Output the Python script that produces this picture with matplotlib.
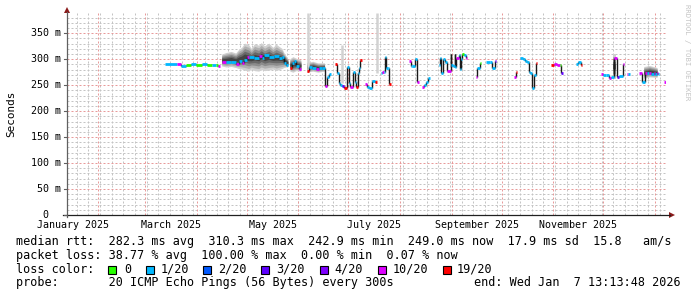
import numpy as np
import matplotlib
matplotlib.use("Agg")
import matplotlib.pyplot as plt
from matplotlib.collections import LineCollection
from matplotlib.lines import Line2D
from matplotlib.patches import Polygon, Rectangle
from matplotlib.transforms import IdentityTransform, blended_transform_factory

# ---------------- data (x = days since 2025-01-01 00:00, y = milliseconds) -------------
nan = np.nan
days = [71.0, 78.3, 80.7, 83.7, 86.7, 89.7, 93.3, 96.3, 99.3, 101.7, 102.9, 104.1,
        105.3, 107.7, 110.7, 113.7, 115.5, 117.3, 118.5, 120.3, 121.5, 124.5, 127.5, 129.0,
        130.5, 133.6, 136.6, 139.6, 141.4, 142.6, 143.8, 145.0,
        146.2, 147.4, 148.6, 149.8, 151.6, 152.8,
        156.2, 157.6, 159.4, 161.6, 163.6, 165.4, 167.0, 168.0, 169.6, 170.8,
        173.2, 174.0, 175.2, 176.2, 177.2, 178.6, 180.0, 181.2, 182.0, 183.6, 185.0, 185.8,
        186.6, 187.2, 188.1, 189.1,
        191.2, 192.4, 193.6, 195.3, 197.2, 198.4,
        200.4, 201.4, 202.4, 203.0, 203.8, 204.8, 205.4, 206.3,
        217.1, 218.3, 219.3, 220.7, 222.1, 223.1,
        225.3, 226.2, 227.3, 228.6, 229.7,
        235.3, 236.0, 236.7, 238.0, 239.1, 240.3, 242.3, 242.7, 243.7, 244.7, 245.1, 245.7,
        247.3, 247.7, 248.7, 249.3, 250.1, 251.3, 252.2,
        257.4, 258.3, 259.8, 260.7,
        263.4, 266.1, 267.4, 268.8, 269.7,
        280.4, 281.4, 282.3,
        284.2, 285.6, 286.8, 288.0, 289.4, 290.1, 291.3, 292.4, 293.4, 294.3,
        302.8, 304.2, 306.2, 307.8, 308.7, 309.6,
        317.6, 318.8, 320.5, 321.4,
        332.3, 333.9, 335.5, 337.5, 338.8, 340.5, 342.0, 343.5, 345.5, 346.6,
        347.9, 348.9, 350.2,
        355.5, 357.4, 358.9, 360.1, 361.5, 362.8, 364.3, 365.2, 365.9, 366.7, 367.6,
        370.5, 371.5]
median_ms = [291, 291, 287, 289, 290, 289, 290, 289, 288, 289, 286, nan,
             294, 294, 295, 291, 297, 292, 298, 305, 304, 302, 306, 303,
             308, 304, 307, 302, 304, 293, 289, nan,
             283, 292, 296, 286, 281, nan,
             278, 285, 283, 281, 284, 283, 249, 266, 271, nan,
             291, 273, 255, 250, 249, 244, 285, 255, 247, 276, 257, 247,
             273, 283, 299, nan,
             252, 246, 244, 259, 257, nan,
             273, 275, 275, 305, 283, 283, 252, nan,
             297, 287, 287, 300, 257, nan,
             247, 250, 256, 263, nan,
             289, 303, 273, 300, 295, 278, 310, 289, 286, 310, 285, 303,
             308, 281, 300, 310, 308, 302, nan,
             265, 284, 292, nan,
             295, 295, 283, 297, nan,
             265, 276, nan,
             303, 300, 297, 294, 276, 273, 244, 270, 293, nan,
             289, 290, 289, 288, 273, nan,
             291, 295, 289, nan,
             272, 270, 269, 263, 265, 302, 265, 268, 290, nan,
             272, 272, nan,
             274, 256, 273, 274, 274, 272, 273, 272, 274, 272, nan,
             257, nan]
# loss class index: 0=0, 1=1/20, 2=2/20, 3=3/20, 4=4/20, 5=10/20, 6=19/20 (-1 = gap)
loss = [1, 5, 1, 0, 1, 0, 1, 0, 1, 0, 5, -1,
        5, 1, 1, 5, 1, 5, 1, 5, 1, 1, 5, 1,
        1, 1, 1, 1, 1, 1, 1, -1,
        6, 1, 1, 1, 5, -1,
        6, 1, 1, 5, 1, 1, 5, 1, 1, -1,
        6, 1, 1, 1, 3, 6, 1, 1, 5, 1, 1, 6,
        1, 1, 6, -1,
        5, 1, 1, 1, 6, -1,
        1, 5, 1, 1, 1, 1, 6, -1,
        5, 1, 1, 1, 5, -1,
        5, 1, 1, 1, -1,
        1, 1, 1, 1, 1, 5, 1, 1, 1, 1, 1, 5,
        1, 1, 1, 0, 1, 5, -1,
        5, 1, 0, -1,
        1, 1, 1, 3, -1,
        5, 6, -1,
        1, 1, 1, 1, 1, 1, 1, 1, 6, -1,
        6, 5, 5, 0, 3, -1,
        1, 1, 6, -1,
        5, 1, 1, 5, 1, 5, 3, 1, 5, -1,
        5, 1, -1,
        5, 1, 5, 1, 5, 1, 5, 1, 5, 1, -1,
        5, -1]

# smoke envelope (spread of the pings)
smoke_days = [105.3, 108.0, 111.0, 113.7, 115.5, 117.3, 119.0, 121.5, 123.0, 125.0,
              127.5, 129.0, 131.0, 133.6, 136.0, 138.0, 139.6, 141.4, 142.6, 145.0, 145.5,
              146.2, 148.0, 150.0, 152.8, 153.3,
              156.2, 160.0, 163.0, 167.0, 167.5,
              339.5, 341.5, 342.0,
              358.5, 362.0, 366.5, 367.0]
smoke_lo = [286, 284, 285, 283, 281, 280, 278, 276, 280, 277,
            276, 279, 277, 278, 280, 277, 279, 281, 283, 285, nan,
            276, 274, 277, 276, nan,
            274, 276, 274, 276, nan,
            262, 262, nan,
            262, 265, 264, nan]
smoke_hi = [309, 312, 314, 311, 318, 322, 330, 327, 320, 329,
            326, 331, 325, 330, 322, 328, 324, 320, 312, 300, nan,
            300, 304, 301, 298, nan,
            293, 295, 292, 292, nan,
            310, 310, nan,
            285, 287, 283, nan]
spike_days = [156.7, 177.3, 198.0]
spike_lo = [278, 254, 273]
spike_hi = [389, 327, 389]

loss_labels = ["0", "1/20", "2/20", "3/20", "4/20", "10/20", "19/20"]
loss_colors = ["#26ff00", "#00b8ff", "#0059ff", "#5e00ff", "#7e00ff", "#dd00ff", "#ff0000"]

month_names = ["January", "February", "March", "April", "May", "June", "July",
               "August", "September", "October", "November", "December"]
month_start = [0, 31, 59, 90, 120, 151, 181, 212, 243, 273, 304, 334, 365]
y_ticks = [0, 50, 100, 150, 200, 250, 300, 350]

legend_lines = [
    "median rtt:  282.3 ms avg  310.3 ms max  242.9 ms min  249.0 ms now  17.9 ms sd  15.8   am/s",
    "packet loss: 38.77 % avg  100.00 % max  0.00 % min  0.07 % now",
]
probe_text = "probe:       20 ICMP Echo Pings (56 Bytes) every 300s"
end_text = "end: Wed Jan  7 13:13:48 2026"

# ---------------- figure ----------------
W, H, DPI = 697, 297, 100
MONO = "DejaVu Sans Mono"
fig = plt.figure(figsize=(W / DPI, H / DPI), dpi=DPI)
fig.patch.set_facecolor("white")
L, R, B, T = 67, 666, 215, 13
ax = fig.add_axes([L / W, 1 - B / H, (R - L) / W, (B - T) / H])
ax.set_facecolor("white")
X0, X1 = 12.2, 371.55
ax.set_xlim(X0, X1)
ax.set_ylim(0, 389)
for s in ax.spines.values():
    s.set_visible(False)
ax.set_xticks([])
ax.set_yticks([])

minor_c = "#c4c4c4"
major_c = "#e89a9a"
GLW = 0.72
dash = (0, (2, 2))
# minor grid
for v in range(10, 389, 10):
    if v % 50:
        ax.axhline(v, color=minor_c, lw=GLW, ls=dash, zorder=0)
wk = 18.0
while wk < X1:
    if wk > X0:
        ax.axvline(wk, color=minor_c, lw=GLW, ls=dash, zorder=0)
    wk += 7
# major grid
for v in y_ticks[1:]:
    ax.axhline(v, color=major_c, lw=GLW, ls=dash, zorder=0)
for ms in month_start:
    if X0 < ms < X1:
        ax.axvline(ms, color=major_c, lw=GLW, ls=dash, zorder=0)

# smoke
sd = np.array(smoke_days); slo = np.array(smoke_lo, float); shi = np.array(smoke_hi, float)
cen = (slo + shi) / 2
for f, col in zip([1.0, 0.8, 0.6, 0.4, 0.2],
                  ["#d0d0d0", "#b0b0b0", "#8c8c8c", "#686868", "#444444"]):
    ax.fill_between(sd, cen - (cen - slo) * f, cen + (shi - cen) * f, color=col, lw=0, zorder=1)
ax.vlines(spike_days, spike_lo, spike_hi, color="#d2d2d2", lw=1.8, zorder=1)

# median
d = np.array(days); m = np.array(median_ms, float); c = np.array(loss)
segs, cols, vsegs = [], [], []
for i in range(len(d) - 1):
    if np.isnan(m[i]):
        continue
    segs.append([(d[i], m[i]), (d[i + 1], m[i])])
    cols.append(loss_colors[c[i]])
    if not np.isnan(m[i + 1]):
        vsegs.append([(d[i + 1], m[i]), (d[i + 1], m[i + 1])])
ax.add_collection(LineCollection(vsegs, colors="#1a1a1a", linewidths=1.0, zorder=3))
ax.add_collection(LineCollection(segs, colors=cols, linewidths=2.0, zorder=4, capstyle="butt"))

# y tick labels
ytr = blended_transform_factory(fig.transFigure, ax.transData)
for v in y_ticks:
    if v == 0:
        fig.text(48 / W, 0, "0", transform=ytr, ha="right", va="center", family=MONO, size=7.2)
    else:
        fig.text(61 / W, v, f"{v} m", transform=ytr, ha="right", va="center", family=MONO, size=7.2)
# x tick labels (mid month, every second month)
xtr = blended_transform_factory(ax.transData, fig.transFigure)
for k in range(0, 12, 2):
    mid = (month_start[k] + month_start[k + 1]) / 2
    fig.text(mid, 1 - 224.5 / H, f"{month_names[k]} 2025", transform=xtr, ha="center",
             va="center", family=MONO, size=7.2)

# axes lines and arrows (pixel coords)
idt = IdentityTransform()
def px(x, y):
    return x, H - y
fig.add_artist(Line2D([67, 67], [H - 217, H - 12], transform=idt, color="#606060", lw=0.9))
fig.add_artist(Line2D([63, 670], [H - 215, H - 215], transform=idt, color="#202020", lw=0.9))
for yv in y_ticks:
    yp = ax.transData.transform((X0, yv))[1]
    fig.add_artist(Line2D([64, 67], [yp, yp], transform=idt, color="#606060", lw=0.8))
fig.add_artist(Polygon([px(64, 13), px(70, 13), px(67, 7)], closed=True, transform=idt,
                       facecolor="#8b1a1a", edgecolor="none"))
fig.add_artist(Polygon([px(669, 212), px(669, 218), px(675, 215)], closed=True, transform=idt,
                       facecolor="#8b1a1a", edgecolor="none"))

# labels
fig.text(11 / W, 1 - 114 / H, "Seconds", rotation=90, ha="center", va="center",
         family=MONO, size=7.9)
fig.text(687 / W, 1 - 52 / H, "RRDTOOL / TOBI OETIKER", rotation=270, ha="center",
         va="center", family=MONO, size=5.2, color="#c4c4c4")

# legend
LS = 8.45
fig.text(16 / W, 1 - 241.5 / H, legend_lines[0], ha="left", va="center", family=MONO, size=LS)
fig.text(16 / W, 1 - 255.2 / H, legend_lines[1], ha="left", va="center", family=MONO, size=LS)
fig.text(16 / W, 1 - 269.2 / H, "loss color:", ha="left", va="center", family=MONO, size=LS)
box_x = [108, 146, 203, 261, 320, 378, 443]
lab_x = [124, 160.5, 218, 276, 334, 392.5, 457]
for bx, lx, lab, col in zip(box_x, lab_x, loss_labels, loss_colors):
    fig.add_artist(Rectangle((bx, H - 274), 8, 8, transform=idt, facecolor=col,
                             edgecolor="black", lw=0.8))
    fig.text(lx / W, 1 - 269.2 / H, lab, ha="left", va="center", family=MONO, size=LS)
fig.text(16 / W, 1 - 282.8 / H, probe_text, ha="left", va="center", family=MONO, size=LS)
fig.text(681 / W, 1 - 282.8 / H, end_text, ha="right", va="center", family=MONO, size=LS)

fig.savefig("out.png", dpi=DPI, facecolor="white")
